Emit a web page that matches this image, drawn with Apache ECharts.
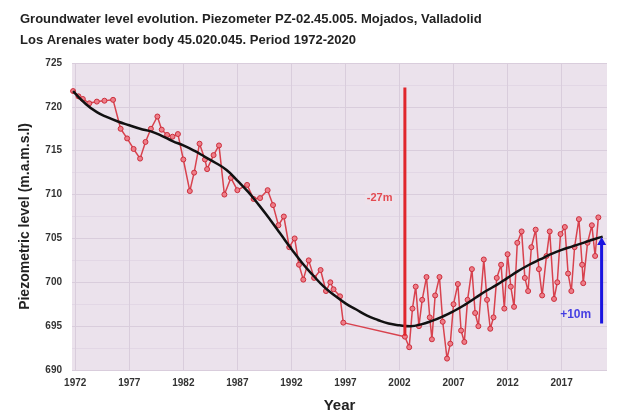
<!DOCTYPE html>
<html>
<head>
<meta charset="utf-8">
<script src="https://cdn.jsdelivr.net/npm/echarts@6/dist/echarts.min.js"></script>
<style>html,body{margin:0;padding:0;background:#fff}#c{width:619px;height:418px}</style>
</head>
<body>
<div id="c"></div>
<script>
// Observed piezometric levels (year, m a.s.l.)
const obsYears = [1971.8,1972.3,1972.7,1973.3,1974.0,1974.7,1975.5,1976.2,1976.8,1977.4,1978.0,1978.5,1979.0,1979.6,1980.0,1980.5,1981.0,1981.5,1982.0,1982.6,1983.0,1983.5,1984.0,1984.2,1984.8,1985.3,1985.8,1986.4,1987.0,1987.9,1988.5,1989.1,1989.8,1990.3,1990.8,1991.3,1991.8,1992.3,1992.7,1993.1,1993.6,1994.1,1994.7,1995.2,1995.6,1995.9,1996.5,1996.8,2002.5,2002.9,2003.2,2003.5,2003.8,2004.1,2004.5,2004.8,2005.0,2005.3,2005.7,2006.0,2006.4,2006.7,2007.0,2007.4,2007.7,2008.0,2008.3,2008.7,2009.0,2009.3,2009.8,2010.1,2010.4,2010.7,2011.0,2011.4,2011.7,2012.0,2012.3,2012.6,2012.9,2013.3,2013.6,2013.9,2014.2,2014.6,2014.9,2015.2,2015.6,2015.9,2016.3,2016.6,2016.9,2017.3,2017.6,2017.9,2018.2,2018.6,2018.9,2019.0,2019.4,2019.8,2020.1,2020.4];
const obsLevels = [721.8,721.2,720.9,720.4,720.6,720.7,720.8,717.5,716.4,715.2,714.1,716.0,717.5,718.9,717.4,716.8,716.6,716.9,714.0,710.4,712.5,715.8,714.0,712.9,714.5,715.6,710.0,711.9,710.5,711.1,709.5,709.6,710.5,708.8,706.5,707.5,704.0,705.0,702.0,700.3,702.5,700.5,701.4,699.0,700.0,699.2,698.4,695.4,693.8,692.6,697.0,699.5,695.0,698.0,700.6,696.0,693.5,698.5,700.6,695.5,691.3,693.0,697.5,699.8,694.5,693.2,698.0,701.5,696.5,695.0,702.6,698.0,694.7,696.0,700.5,702.0,697.0,703.2,699.5,697.2,704.5,705.8,700.5,699.0,704.0,706.0,701.5,698.5,703.0,705.8,698.1,700.0,705.5,706.3,701.0,699.0,704.0,707.2,702.0,699.9,704.5,706.5,703.0,707.4];

// Fitted trend
const trendYears = [1971.8,1973,1974,1975,1976,1977,1978,1979,1980,1981,1982,1983,1984,1985,1986,1987,1988,1989,1990,1991,1992,1993,1994,1995,1996,1997,1998,1999,2000,2001,2002,2003,2004,2005,2006,2007,2008,2009,2010,2011,2012,2013,2014,2015,2016,2017,2018,2019,2020,2020.8];
const trendLevels = [721.8,720.3,719.4,718.8,718.3,717.9,717.5,717.2,716.7,716.1,715.6,715.0,714.3,713.6,712.8,711.6,710.3,708.8,707.2,705.5,703.8,702.2,700.8,699.5,698.5,697.6,696.9,696.2,695.7,695.3,695.1,695.0,695.2,695.6,696.1,696.7,697.4,698.2,699.0,699.7,700.5,701.3,702.0,702.6,703.2,703.7,704.1,704.5,704.9,705.2];

// Tick labels
const xTickYears = [1972,1977,1982,1987,1992,1997,2002,2007,2012,2017];

// Annotations
const dropYears = [2002.5, 2002.5];
const dropLevels = [722.2, 693.9];
const dropText = '-27m';
const dropTextAt = [2002.0, 709.6];
const riseYears = [2020.7, 2020.7];
const riseLevels = [695.3, 704.7];
const riseText = '+10m';
const riseTextAt = [2020.2, 696.3];

const zip = (a, b) => a.map((v, i) => [v, b[i]]);
const FONT = 'Liberation Sans';

const chart = echarts.init(document.getElementById('c'), null, {renderer: 'canvas'});
chart.setOption({
  animation: false,
  backgroundColor: '#ffffff',
  textStyle: {fontFamily: FONT},
  title: [
    {text: 'Groundwater level evolution. Piezometer PZ-02.45.005. Mojados, Valladolid', left: 15, top: 8,
     textStyle: {fontFamily: FONT, fontSize: 13, fontWeight: 'bold', color: '#222'}},
    {text: 'Los Arenales water body 45.020.045. Period 1972-2020', left: 15, top: 29,
     textStyle: {fontFamily: FONT, fontSize: 13, fontWeight: 'bold', color: '#222'}}
  ],
  grid: {left: 72, right: 12, top: 63, bottom: 44, show: true, backgroundColor: '#ebe2ec', borderWidth: 0},
  xAxis: {
    type: 'value', min: 1971.7, max: 2021.2,
    name: 'Year', nameLocation: 'middle', nameGap: 28,
    nameTextStyle: {fontFamily: FONT, fontSize: 15, fontWeight: 'bold', color: '#222'},
    axisLine: {show: false},
    axisTick: {show: false, customValues: xTickYears},
    axisLabel: {customValues: xTickYears, formatter: v => String(Math.round(v)), fontSize: 10, fontWeight: 'bold', color: '#333', margin: 8},
    splitLine: {show: true, lineStyle: {color: '#d9cddc', width: 1}}
  },
  yAxis: {
    type: 'value', min: 690, max: 725, interval: 5,
    name: 'Piezometric level (m.a.m.s.l)', nameLocation: 'middle', nameGap: 40,
    nameTextStyle: {fontFamily: FONT, fontSize: 14, fontWeight: 'bold', color: '#222'},
    axisLine: {show: false}, axisTick: {show: false},
    axisLabel: {fontSize: 10, fontWeight: 'bold', color: '#333', margin: 10},
    splitLine: {show: true, lineStyle: {color: '#d9cddc', width: 1}},
    minorTick: {show: false, splitNumber: 2},
    minorSplitLine: {show: true, lineStyle: {color: '#e2d7e5', width: 1}}
  },
  series: [
    {type: 'line', data: zip(obsYears, obsLevels), symbol: 'circle', symbolSize: 5,
     itemStyle: {color: '#ee7e8a', borderColor: '#cc2f3c', borderWidth: 1},
     lineStyle: {color: '#d8424e', width: 1.5}, z: 2},
    {type: 'line', data: zip(trendYears, trendLevels), smooth: true, symbol: 'none',
     lineStyle: {color: '#111', width: 2.5}, z: 3},
    {type: 'line', data: zip(dropYears, dropLevels), symbol: 'none',
     lineStyle: {color: '#e0262c', width: 3}, z: 4},
    {type: 'line', data: zip(riseYears, riseLevels).map((p, i) => i === 1 ? {value: p, symbol: 'triangle', symbolSize: [9, 8]} : {value: p, symbol: 'none'}),
     lineStyle: {color: '#1a14e0', width: 3}, itemStyle: {color: '#1a14e0'}, z: 4},
    {type: 'scatter', symbolSize: 0, z: 5,
     data: [{value: dropTextAt, label: {show: true, formatter: dropText, position: 'left', color: '#e0262c', fontSize: 11, fontWeight: 'bold', backgroundColor: 'rgba(240,225,235,0.6)', padding: [1, 2]}},
            {value: riseTextAt, label: {show: true, formatter: riseText, position: 'left', color: '#1a14e0', fontSize: 12, fontWeight: 'bold'}}]}
  ]
});
</script>
</body>
</html>
